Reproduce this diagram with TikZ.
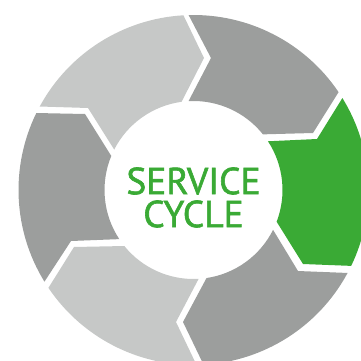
\documentclass[tikz,border=0pt]{standalone}
\usepackage{fontspec}
\setmainfont[FakeBold=1.6]{PT Sans}
\definecolor{lightseg}{HTML}{C6C8C7}
\definecolor{darkseg}{HTML}{9C9E9D}
\definecolor{greenseg}{HTML}{3AAA35}
\tikzset{
  lightfill/.style={fill=lightseg,draw=none},
  darkfill/.style={fill=darkseg,draw=none},
  greenfill/.style={fill=greenseg,draw=none},
  titletext/.style={text=greenseg,align=center,inner sep=0pt,font=\fontsize{37.5}{33}\selectfont}
}
\def\Ro{175}\def\Ri{89}
\begin{document}
\begin{tikzpicture}[x=1pt,y=1pt]
\useasboundingbox (0,0) rectangle (361,360);
\clip (0,0) rectangle (361,360);
\coordinate (c) at (193.5,170);
% top-left light
\fill[lightfill] ([shift={(c)}]151.5:\Ro) arc[start angle=151.5,end angle=93.3,radius=\Ro]
  -- (204,302) -- ([shift={(c)}]97.7:\Ri) arc[start angle=97.7,end angle=153,radius=\Ri]
  -- (88,252) -- cycle;
% top dark
\fill[darkfill] ([shift={(c)}]91.6:\Ro) arc[start angle=91.6,end angle=34,radius=\Ro]
  -- (313,227) -- ([shift={(c)}]38.7:\Ri) arc[start angle=38.7,end angle=93.2,radius=\Ri]
  -- (211,302) -- cycle;
% green
\fill[greenfill] ([shift={(c)}]31.7:\Ro) arc[start angle=31.7,end angle=-25.7,radius=\Ro]
  -- (303,96) -- ([shift={(c)}]-20.9:\Ri) arc[start angle=-20.9,end angle=33.2,radius=\Ri]
  -- (317,221) -- cycle;
% bottom-right dark
\fill[darkfill] ([shift={(c)}]-28.3:\Ro) arc[start angle=-28.3,end angle=-86.7,radius=\Ro]
  -- (183,38) -- ([shift={(c)}]-81.6:\Ri) arc[start angle=-81.6,end angle=-26.6,radius=\Ri]
  -- (298,89) -- cycle;
% bottom-left light
\fill[lightfill] ([shift={(c)}]214:\Ro) arc[start angle=214,end angle=271,radius=\Ro]
  -- (176,38) -- ([shift={(c)}]273.3:\Ri) arc[start angle=273.3,end angle=219,radius=\Ri]
  -- (74,113) -- cycle;
% left dark
\fill[darkfill] ([shift={(c)}]153.9:\Ro) arc[start angle=153.9,end angle=211.6,radius=\Ro]
  -- (71,119) -- ([shift={(c)}]213.5:\Ri) arc[start angle=213.5,end angle=157.5,radius=\Ri]
  -- (85,246) -- cycle;
\node[titletext] (title) at (193.5,162.5) {SERVICE\\CYCLE};
\end{tikzpicture}
\end{document}
